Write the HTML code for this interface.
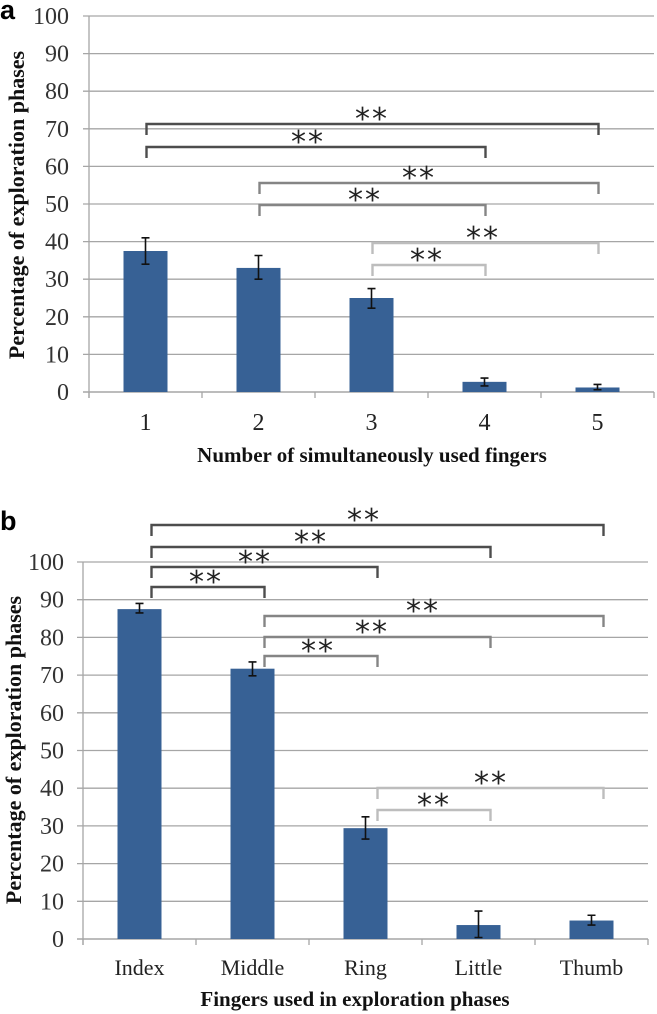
<!DOCTYPE html>
<html><head><meta charset="utf-8">
<style>
html,body{margin:0;padding:0;background:#fff;}
svg{display:block;}
</style></head>
<body>
<svg id="fig" width="657" height="1014" viewBox="0 0 657 1014" xmlns="http://www.w3.org/2000/svg" font-family="Liberation Serif, serif"></svg>
<script>
// ---- Panel a data ----
const catsA = ["1","2","3","4","5"];
const valsA = [37.5, 33, 25, 2.7, 1.2];
const errHiA = [41, 36.3, 27.5, 3.7, 2.0];
const errLoA = [34, 30, 22.3, 1.6, 0.6];
const ticksA = [0,10,20,30,40,50,60,70,80,90,100];
// ---- Panel b data ----
const catsB = ["Index","Middle","Ring","Little","Thumb"];
const valsB = [87.5, 71.7, 29.4, 3.7, 4.9];
const errHiB = [89, 73.5, 32.4, 7.4, 6.3];
const errLoB = [86.5, 69.8, 26.5, 0.4, 3.7];
const ticksB = [0,10,20,30,40,50,60,70,80,90,100];

const NS = "http://www.w3.org/2000/svg";
const svg = document.getElementById("fig");
function mk(tag, attrs, parent){
  const e = document.createElementNS(NS, tag);
  for (const k in attrs) e.setAttribute(k, attrs[k]);
  (parent||svg).appendChild(e);
  return e;
}

function drawPanel(cfg){
  const g = mk("g", {});
  
  
  const y = v => cfg.y0 - (v/100)*(cfg.y0-cfg.y100);
  const step = (cfg.xEnd-cfg.xStart)/cfg.cats.length;
  const xc = i => cfg.xStart + step*(i+0.5);
  cfg.ticks.forEach(t=>{
    if (t>0){
      const l = mk("line",{x1:cfg.xStart-6,x2:cfg.xEnd,y1:y(t),y2:y(t),stroke:"#a6a6a6","stroke-width":1.3},g);
      
      
    }
    const tx = mk("text",{x:cfg.labelRight,y:y(t)+8,"text-anchor":"end","font-size":24,fill:"#333"},g);
    tx.textContent = t;
    
    
  });
  const ax = mk("line",{x1:cfg.xStart,x2:cfg.xStart,y1:cfg.y100,y2:cfg.y0+6,stroke:"#a6a6a6","stroke-width":1.3},g);
  
  
  const bx = mk("line",{x1:cfg.xStart-6,x2:cfg.xEnd,y1:cfg.y0,y2:cfg.y0,stroke:"#a6a6a6","stroke-width":1.5},g);
  
  
  for (let i=0;i<=cfg.cats.length;i++){
    const tk = mk("line",{x1:cfg.xStart+step*i,x2:cfg.xStart+step*i,y1:cfg.y0,y2:cfg.y0+6,stroke:"#a6a6a6","stroke-width":1.3},g);
    
    
  }
  cfg.vals.forEach((v,i)=>{
    const r = mk("rect",{x:xc(i)-22,y:y(v),width:44,height:cfg.y0-y(v),fill:"#376195"},g);
    
    
    const eb = mk("path",{d:`M${xc(i)-4},${y(cfg.hi[i])}H${xc(i)+4}M${xc(i)},${y(cfg.hi[i])}V${y(cfg.lo[i])}M${xc(i)-4},${y(cfg.lo[i])}H${xc(i)+4}`,stroke:"#111","stroke-width":1.6,fill:"none"},g);
    
    
    const lb = mk("text",{x:xc(i),y:cfg.catY,"text-anchor":"middle","font-size":cfg.catSize,fill:"#222"},g);
    lb.textContent = cfg.cats[i];
    
    
  });
  cfg.brackets.forEach(b=>{
    const x1 = xc(b[0])+cfg.off, x2 = xc(b[1])+cfg.off;
    const p = mk("path",{d:`M${x1},${b[2]+11}V${b[2]}H${x2}V${b[2]+11}`,stroke:b[3],"stroke-width":2.4,fill:"none"},g);
    
    
    const s = mk("text",{x:b[4],y:b[2]+5,"text-anchor":"middle","font-size":30,"font-family":"DejaVu Sans, sans-serif",fill:"#222","letter-spacing":"2"},g);
    s.textContent = "**";
    
    
  });
  const yt = mk("text",{x:0,y:0,"text-anchor":"middle","font-size":22,"font-weight":"bold",fill:"#111",transform:`translate(${cfg.ytX},${cfg.ytY}) rotate(-90)`},g);
  yt.textContent = "Percentage of exploration phases";
  
  
  const xt = mk("text",{x:cfg.xtX,y:cfg.xtY,"text-anchor":"middle","font-size":21,"font-weight":"bold",fill:"#111"},g);
  xt.textContent = cfg.xTitle;
  
  
  const pl = mk("text",{x:cfg.letterX,y:cfg.letterY,"font-size":27,"font-weight":"bold","font-family":"Liberation Sans, sans-serif",fill:"#000"},g);
  pl.textContent = cfg.letter;
  
  
}

const DK="#4d4d4d", MD="#858585", LT="#bdbdbd";
drawPanel({name:"panel-a", cats:catsA, vals:valsA, hi:errHiA, lo:errLoA, ticks:ticksA,
  y0:392, y100:16, xStart:89, xEnd:654, labelRight:69, catY:430, catSize:24, off:1,
  brackets:[[0,4,124,DK,372],[0,3,147,DK,308],[1,4,183,MD,419],[1,3,205,MD,365],[2,4,243,LT,483],[2,3,265,LT,427]],
  ytX:24, ytY:205, xTitle:"Number of simultaneously used fingers", xtX:372, xtY:462, letter:"a", letterX:0, letterY:19});
drawPanel({name:"panel-b", cats:catsB, vals:valsB, hi:errHiB, lo:errLoB, ticks:ticksB,
  y0:939, y100:562, xStart:83, xEnd:648, labelRight:64, catY:975, catSize:22, off:12,
  brackets:[[0,4,525,DK,364],[0,3,547,DK,311],[0,2,567,DK,255],[0,1,587,DK,206],[1,4,616,MD,423],[1,3,637,MD,372],[1,2,656,MD,318],[2,4,788,LT,491],[2,3,810,LT,434]],
  ytX:21, ytY:750, xTitle:"Fingers used in exploration phases", xtX:355, xtY:1006, letter:"b", letterX:0, letterY:530});
</script>
</body></html>
